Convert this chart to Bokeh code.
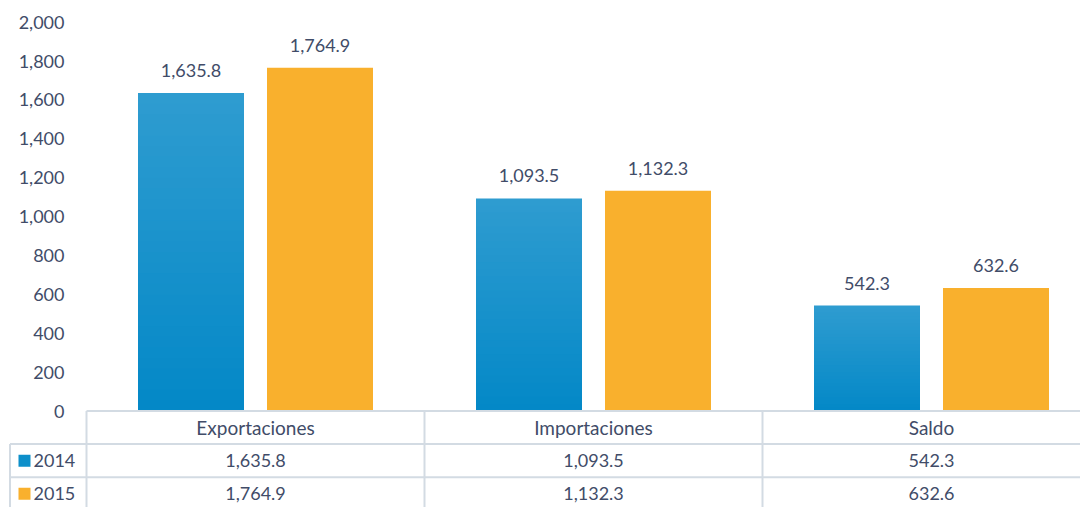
from bokeh.plotting import figure
from bokeh.models import Range1d
from bokeh.core.properties import value
from bokeh.embed import file_html
from bokeh.resources import INLINE

categories = ["Exportaciones", "Importaciones", "Saldo"]
series_names = ["2014", "2015"]
values_2014 = [1635.8, 1093.5, 542.3]
values_2015 = [1764.9, 1132.3, 632.6]
y_ticks = [0, 200, 400, 600, 800, 1000, 1200, 1400, 1600, 1800, 2000]

BLUE_TOP = (47, 156, 208)
BLUE_BOT = (3, 136, 199)
ORANGE = "#f9b02d"
TEXT = "#414c68"
GRID = "#d3dbe3"
FONT = value("Lato")

W, H = 1080, 507
SY = H / 515.0
COL_PX = 338.0
x0_px = 86.0
PX_PER_UNIT_Y = 0.1975 * SY
zero_px = 417.0 * SY

x_start = -x0_px / COL_PX
x_end = (W - x0_px) / COL_PX
y_end = zero_px / PX_PER_UNIT_Y
y_start = -(H - zero_px) / PX_PER_UNIT_Y

p = figure(width=W, height=H, x_range=Range1d(x_start, x_end), y_range=Range1d(y_start, y_end),
           output_backend="svg", toolbar_location=None, x_axis_type=None, y_axis_type=None,
           min_border=0, outline_line_color=None)
p.grid.visible = False

n = len(categories)
centers = [i + 0.5 for i in range(n)]
off = 64.5 / COL_PX
bw = 106 / COL_PX

# blue bars with vertical gradient (layered, lightest/tallest first)
N = 30
for k in range(N):
    frac = (N - k) / N
    t = (N - k - 0.5) / N
    r = tuple(int(round(BLUE_BOT[j] + (BLUE_TOP[j] - BLUE_BOT[j]) * t)) for j in range(3))
    col = "#%02x%02x%02x" % r
    p.vbar(x=[c - off for c in centers], width=bw, top=[v * frac for v in values_2014], bottom=0,
           fill_color=col, line_color=None)
p.vbar(x=[c + off for c in centers], width=bw, top=values_2015, bottom=0,
       fill_color=ORANGE, line_color=None)

def fmt(v):
    return f"{v:,.1f}"

# value labels above bars
p.text(x=[c - off for c in centers], y=values_2014, text=[fmt(v) for v in values_2014],
       text_align="center", text_baseline="bottom", y_offset=-16, text_font=FONT,
       text_font_size="18px", text_color=TEXT)
p.text(x=[c + off for c in centers], y=values_2015, text=[fmt(v) for v in values_2015],
       text_align="center", text_baseline="bottom", y_offset=-16, text_font=FONT,
       text_font_size="18px", text_color=TEXT)

# y tick labels
p.text(x=[(64 - x0_px) / COL_PX] * len(y_ticks), y=y_ticks, text=[f"{t:,}" for t in y_ticks],
       text_align="right", text_baseline="middle", text_font=FONT, text_font_size="18px",
       text_color=TEXT)

# data table
row_h = 33.6 * SY / PX_PER_UNIT_Y
left_edge = (9.5 - x0_px) / COL_PX
p.segment(x0=[0, left_edge, left_edge], y0=[0, -row_h, -2 * row_h],
          x1=[x_end, x_end, x_end], y1=[0, -row_h, -2 * row_h], line_color=GRID, line_width=2)
vx = [0, 1, 2, 3]
p.segment(x0=vx, y0=[0] * 4, x1=vx, y1=[y_start] * 4, line_color=GRID, line_width=2)
p.segment(x0=[left_edge], y0=[-row_h], x1=[left_edge], y1=[y_start], line_color=GRID, line_width=2)

p.text(x=centers, y=[-row_h / 2] * n, text=categories, text_align="center", text_baseline="middle",
       text_font=FONT, text_font_size="19px", text_color=TEXT)
for r, (vals, name, col) in enumerate([(values_2014, series_names[0], "#0d8fca"),
                                        (values_2015, series_names[1], ORANGE)]):
    yc = -row_h * (r + 1.5)
    p.text(x=centers, y=[yc] * n, text=[fmt(v) for v in vals], text_align="center",
           text_baseline="middle", text_font=FONT, text_font_size="18px", text_color=TEXT)
    p.scatter(x=[(24 - x0_px) / COL_PX], y=[yc], marker="square", size=12, fill_color=col, line_color=None)
    p.text(x=[(33 - x0_px) / COL_PX], y=[yc], text=[name], text_align="left", text_baseline="middle",
           text_font=FONT, text_font_size="18px", text_color=TEXT)

open("out.html", "w").write(file_html(p, INLINE))
